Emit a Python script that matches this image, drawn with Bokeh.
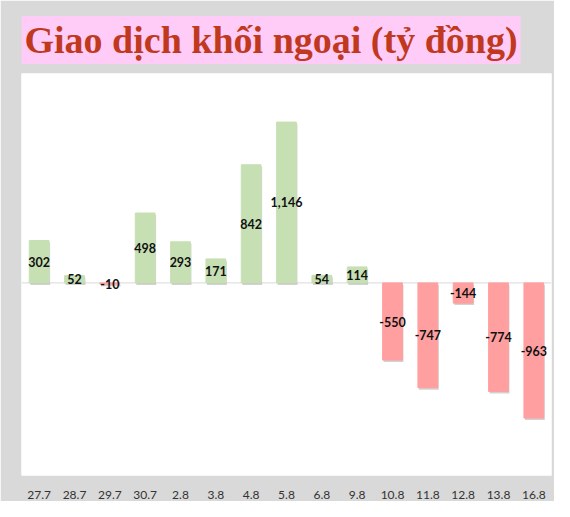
from bokeh.plotting import figure
from bokeh.models import ColumnDataSource, Title, Span, LabelSet, FactorRange, Range1d
from bokeh.transform import dodge
from bokeh.embed import file_html
from bokeh.resources import INLINE
from bokeh.core.properties import value

# ---- data ----
dates = ["27.7", "28.7", "29.7", "30.7", "2.8", "3.8", "4.8", "5.8",
         "6.8", "9.8", "10.8", "11.8", "12.8", "13.8", "16.8"]
net_values = [302, 52, -10, 498, 293, 171, 842, 1146,
              54, 114, -550, -747, -144, -774, -963]
title_text = "Giao dịch khối ngoại (tỷ đồng)"

pos_color = "#C6E0B4"
neg_color = "#FF9F9F"

src = ColumnDataSource(dict(
    date=dates,
    val=net_values,
    top=[max(v, 0) for v in net_values],
    bottom=[min(v, 0) for v in net_values],
    sh_top=[max(v, 0) - 14 for v in net_values],
    sh_bottom=[min(v, 0) - 14 for v in net_values],
    mid=[v / 2 for v in net_values],
    label=[f"{v:,}" for v in net_values],
    color=[pos_color if v >= 0 else neg_color for v in net_values],
))

p = figure(width=554, height=501,
           x_range=FactorRange(*dates, range_padding=0),
           y_range=Range1d(-1372, 1492),
           output_backend="svg", toolbar_location=None,
           min_border_left=21, min_border_right=3,
           min_border_top=73, min_border_bottom=23)

p.border_fill_color = "#D9D9D9"
p.background_fill_color = "white"
p.outline_line_color = None
p.xgrid.grid_line_color = None
p.ygrid.grid_line_color = None
p.yaxis.visible = False

p.xaxis.axis_line_color = None
p.xaxis.major_tick_line_color = None
p.xaxis.minor_tick_line_color = None
p.xaxis.major_label_text_font = "Lato"
p.xaxis.major_label_text_font_size = "12px"
p.xaxis.major_label_text_color = "#333333"
p.xaxis.major_label_standoff = 9

p.add_layout(Span(location=0, dimension="width", line_color="#D9D9D9",
                  line_width=1, level="underlay"))

# soft shadow
p.vbar(x=dodge("date", 0.03, range=p.x_range), top="sh_top", bottom="sh_bottom",
       width=0.56, source=src, fill_color="#7F7F7F", fill_alpha=0.35,
       line_color=None)
p.vbar(x="date", top="top", bottom="bottom", width=0.56, source=src,
       fill_color="color", line_color="color")

p.add_layout(LabelSet(x="date", y="mid", text="label", source=src,
                      text_align="center", text_baseline="middle",
                      text_font=value("Lato"), text_font_style="bold",
                      text_font_size="12.5px", text_color="#111111"))

t = Title(text=title_text, align="left", text_font="Liberation Serif",
          text_font_style="bold", text_font_size="38px", text_color="#C0391F",
          background_fill_color="#FFCCF7", padding=3, offset=0, standoff=19)
p.add_layout(t, "above")

open("out.html", "w").write(file_html(p, INLINE))
